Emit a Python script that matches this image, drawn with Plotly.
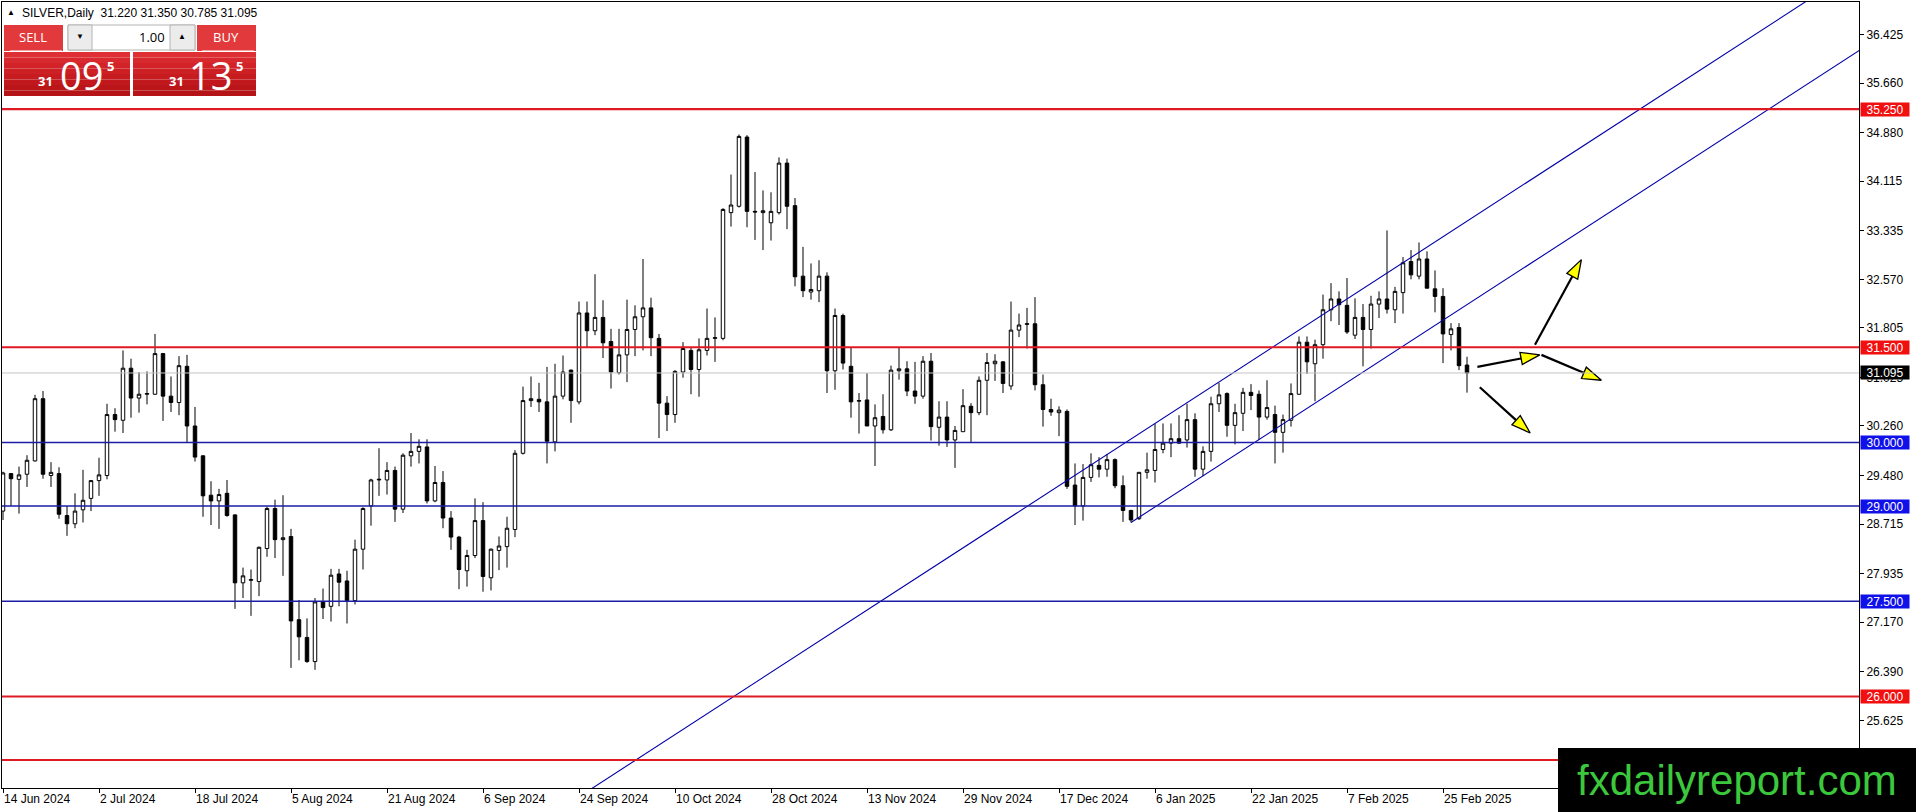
import plotly.graph_objects as go

# SILVER daily bars, 14 Jun 2024 .. 28 Feb 2025
opens = [28.92, 29.51, 29.42, 29.50, 29.71, 30.69, 29.48, 29.51, 28.85, 28.72,
         28.94, 29.12, 29.40, 29.48, 30.44, 30.35, 31.17, 30.70, 30.76, 30.76,
         31.40, 30.73, 30.63, 31.20, 30.26, 29.79, 29.17, 29.08, 29.20, 28.86,
         27.79, 27.83, 27.81, 28.33, 28.96, 28.47, 28.52, 27.21, 26.93, 26.55,
         27.49, 27.42, 27.93, 27.82, 27.51, 28.32, 29.00, 29.41, 29.41, 29.56,
         28.95, 29.79, 29.86, 29.93, 29.08, 29.37, 28.81, 28.51, 27.98, 28.22,
         28.77, 27.87, 28.30, 28.36, 28.63, 29.83, 30.66, 30.68, 30.64, 30.01,
         30.73, 31.14, 30.64, 32.04, 31.76, 31.97, 31.59, 31.10, 31.38, 31.78,
         31.98, 32.12, 31.64, 30.62, 30.44, 31.11, 31.45, 31.15, 31.45, 31.64,
         31.64, 33.62, 33.72, 34.81, 33.64, 33.62, 33.46, 33.62, 34.40, 33.73,
         32.62, 32.37, 32.39, 32.62, 31.13, 32.00, 31.20, 30.65, 30.67, 30.26,
         30.41, 30.20, 31.13, 31.16, 30.81, 30.73, 31.28, 30.24, 30.40, 30.04,
         30.17, 30.57, 30.47, 30.98, 31.24, 31.27, 30.89, 31.77, 31.86, 31.87,
         30.91, 30.52, 30.47, 30.49, 29.33, 29.00, 29.45, 29.64, 29.58, 29.73,
         29.32, 28.93, 28.80, 29.53, 29.56, 29.89, 29.99, 30.06, 30.04, 30.36,
         29.58, 29.86, 30.61, 30.77, 30.27, 30.46, 30.79, 30.76, 30.40, 30.44,
         30.16, 30.35, 30.76, 31.58, 31.24, 31.54, 32.09, 32.26, 32.16, 31.69,
         31.97, 31.78, 32.18, 32.26, 32.09, 32.36, 32.85, 32.62, 32.89, 32.42,
         32.30, 31.70, 31.81, 31.22]
highs = [29.54, 29.52, 29.62, 29.80, 30.75, 30.81, 29.69, 29.61, 29.00, 29.20,
         29.57, 29.41, 29.76, 30.61, 30.54, 31.45, 31.32, 31.11, 31.12, 31.71,
         31.41, 31.04, 31.36, 31.38, 30.56, 29.80, 29.39, 29.27, 29.41, 28.87,
         28.03, 28.00, 28.36, 28.99, 29.10, 29.17, 28.64, 27.52, 27.23, 27.55,
         27.70, 28.01, 28.01, 27.98, 28.47, 28.98, 29.43, 29.91, 29.69, 29.62,
         29.83, 30.15, 30.05, 30.05, 29.63, 29.55, 28.92, 28.53, 28.31, 29.12,
         29.06, 28.33, 28.52, 28.83, 29.88, 30.88, 31.04, 30.94, 31.19, 31.24,
         31.37, 31.15, 32.22, 32.22, 32.65, 32.24, 31.79, 31.79, 32.25, 32.16,
         32.89, 32.28, 31.71, 30.73, 31.14, 31.58, 31.49, 31.64, 32.11, 31.97,
         33.69, 34.22, 34.85, 34.84, 34.26, 33.97, 33.94, 34.49, 34.47, 33.85,
         33.08, 32.82, 32.87, 32.68, 32.11, 32.03, 31.49, 30.78, 31.09, 30.60,
         30.76, 31.21, 31.49, 31.28, 31.27, 31.36, 31.41, 30.65, 30.65, 30.26,
         30.84, 30.62, 31.04, 31.41, 31.39, 31.28, 32.22, 32.03, 32.12, 32.29,
         31.07, 30.69, 30.57, 30.52, 29.67, 29.66, 29.83, 29.77, 29.82, 29.75,
         29.48, 28.94, 29.53, 29.84, 30.30, 30.30, 30.30, 30.43, 30.61, 30.46,
         29.94, 30.72, 30.94, 30.79, 30.61, 30.86, 30.92, 30.82, 30.98, 30.58,
         30.44, 30.93, 31.67, 31.67, 31.62, 32.33, 32.51, 32.38, 32.59, 32.27,
         32.18, 32.31, 32.38, 33.34, 32.45, 32.92, 33.03, 33.15, 33.01, 32.71,
         32.43, 31.88, 31.88, 31.35]
lows = [28.78, 29.00, 28.88, 29.30, 29.70, 29.43, 29.30, 28.80, 28.53, 28.65,
        28.74, 28.92, 29.16, 29.42, 30.17, 30.15, 30.39, 30.47, 30.60, 30.75,
        30.34, 30.48, 30.43, 30.00, 29.70, 28.83, 28.70, 28.64, 28.83, 27.38,
        27.55, 27.27, 27.58, 28.20, 28.18, 27.90, 26.45, 26.57, 26.53, 26.42,
        27.22, 27.18, 27.42, 27.15, 27.45, 28.00, 28.69, 29.16, 29.18, 28.75,
        28.89, 29.62, 29.67, 29.04, 29.06, 28.65, 28.31, 27.69, 27.73, 28.18,
        27.65, 27.67, 27.99, 28.03, 28.51, 29.81, 30.56, 30.48, 29.67, 29.86,
        30.68, 30.31, 30.60, 31.50, 31.69, 31.33, 30.85, 31.07, 30.95, 31.36,
        31.45, 31.36, 30.07, 30.18, 30.31, 31.02, 30.76, 30.72, 31.37, 31.27,
        31.61, 33.40, 33.70, 33.39, 33.19, 33.03, 33.18, 33.59, 33.36, 32.46,
        32.29, 32.25, 32.21, 30.78, 30.83, 31.15, 30.39, 30.14, 30.26, 29.63,
        30.14, 30.18, 30.99, 30.73, 30.61, 30.69, 30.03, 29.95, 29.93, 29.60,
        30.17, 30.00, 30.43, 30.43, 30.97, 30.78, 30.83, 31.66, 31.48, 30.82,
        30.25, 30.42, 30.10, 29.27, 28.70, 28.77, 29.38, 29.45, 29.46, 29.28,
        28.75, 28.74, 28.78, 29.43, 29.37, 29.83, 29.77, 29.98, 29.92, 29.46,
        29.47, 29.70, 30.48, 30.09, 29.97, 30.18, 30.51, 30.04, 30.36, 29.67,
        29.84, 30.25, 30.75, 31.08, 30.65, 31.32, 31.91, 31.85, 31.71, 31.63,
        31.20, 31.48, 31.96, 32.03, 31.88, 32.03, 32.57, 32.57, 32.43, 32.05,
        31.25, 31.45, 31.14, 30.785]
closes = [29.52, 29.43, 29.49, 29.72, 30.69, 29.50, 29.53, 28.87, 28.72, 28.92,
          29.09, 29.40, 29.49, 30.44, 30.36, 31.17, 30.70, 30.76, 30.77, 31.40,
          30.73, 30.63, 31.21, 30.26, 29.77, 29.16, 29.08, 29.18, 28.85, 27.79,
          27.90, 27.84, 28.35, 28.96, 28.47, 28.50, 27.19, 26.94, 26.55, 27.49,
          27.40, 27.91, 27.80, 27.51, 28.32, 28.96, 29.41, 29.42, 29.56, 28.95,
          29.80, 29.86, 29.94, 29.08, 29.37, 28.81, 28.51, 28.00, 28.22, 28.77,
          27.89, 28.32, 28.37, 28.65, 29.83, 30.66, 30.69, 30.64, 30.02, 30.73,
          31.11, 30.66, 32.04, 31.76, 31.97, 31.57, 31.11, 31.38, 31.78, 31.98,
          32.12, 31.65, 30.62, 30.44, 31.12, 31.48, 31.15, 31.46, 31.64, 31.65,
          33.67, 33.74, 34.82, 33.64, 33.63, 33.65, 33.64, 34.40, 33.72, 32.61,
          32.39, 32.41, 32.62, 31.13, 32.00, 31.25, 30.64, 30.66, 30.26, 30.39,
          30.20, 31.14, 31.16, 30.81, 30.73, 31.28, 30.25, 30.40, 30.04, 30.19,
          30.58, 30.47, 30.98, 31.26, 31.28, 30.93, 31.77, 31.85, 31.87, 30.91,
          30.52, 30.48, 30.51, 29.31, 29.00, 29.45, 29.65, 29.58, 29.73, 29.32,
          28.93, 28.78, 29.53, 29.57, 29.89, 29.99, 30.06, 29.99, 30.36, 29.58,
          29.86, 30.61, 30.75, 30.27, 30.47, 30.79, 30.74, 30.40, 30.55, 30.16,
          30.36, 30.77, 31.58, 31.27, 31.54, 32.09, 32.26, 32.17, 31.74, 31.97,
          31.78, 32.18, 32.26, 32.10, 32.38, 32.83, 32.64, 32.89, 32.43, 32.30,
          31.71, 31.79, 31.21, 31.095]

# date labels sit on every 12th bar
tick_bars = [0, 12, 24, 36, 48, 60, 72, 84, 96, 108, 120, 132, 144, 156, 168, 180]
tick_labels = ['14 Jun 2024', '2 Jul 2024', '18 Jul 2024', '5 Aug 2024', '21 Aug 2024',
               '6 Sep 2024', '24 Sep 2024', '10 Oct 2024', '28 Oct 2024', '13 Nov 2024',
               '29 Nov 2024', '17 Dec 2024', '6 Jan 2025', '22 Jan 2025', '7 Feb 2025',
               '25 Feb 2025']
price_ticks = [36.425, 35.660, 34.880, 34.115, 33.335, 32.570, 31.805, 31.025,
               30.260, 29.480, 28.715, 27.935, 27.170, 26.390, 25.625]

# drawn levels
red_levels = [35.25, 31.5, 26.0, 25.0]
red_tagged = [35.25, 31.5, 26.0]
blue_levels = [30.0, 29.0, 27.5]
last_price = 31.095

# trend channel (bar index, price)
chan_a_x = [60, 240]
chan_a_y = [23.44, 38.14]
chan_b_x = [141, 240]
chan_b_y = [28.74, 36.825]

# forecast arrows (bar index, price): start -> end
arrow_x0 = [184.3, 191.5, 192.3, 184.6]
arrow_y0 = [31.19, 31.54, 31.38, 30.87]
arrow_x1 = [192.1, 197.3, 199.8, 190.9]
arrow_y1 = [31.38, 32.88, 30.98, 30.15]

W, H = 1916, 812
ML, MR, MT, MB = 2, 57, 2, 24
PW, PH = W - ML - MR, H - MT - MB
FONT = 'Liberation Sans'


def px(x):
    return (x - ML) / PW


def py(y):
    return (H - MB - y) / PH


bars = list(range(len(closes)))

fig = go.Figure()
fig.add_trace(go.Candlestick(
    x=bars, open=opens, high=highs, low=lows, close=closes,
    increasing=dict(line=dict(color='black', width=1), fillcolor='white'),
    decreasing=dict(line=dict(color='black', width=1), fillcolor='black'),
    whiskerwidth=0, showlegend=False, hoverinfo='skip'))

# horizontal levels
for lv in red_levels:
    fig.add_hline(y=lv, line=dict(color='#e01a22', width=2.2), layer='above')
for lv in blue_levels:
    fig.add_hline(y=lv, line=dict(color='#1c1ca8', width=1.3), layer='above')
fig.add_hline(y=last_price, line=dict(color='#c4c4c4', width=1), layer='above')

# channel
for cx, cy in [(chan_a_x, chan_a_y), (chan_b_x, chan_b_y)]:
    fig.add_trace(go.Scatter(x=cx, y=cy, mode='lines', line=dict(color='#0000a8', width=1.1),
                             showlegend=False, hoverinfo='skip'))

# arrows: black shaft, yellow head
for i in range(len(arrow_x0)):
    fig.add_trace(go.Scatter(
        x=[arrow_x0[i], arrow_x1[i]], y=[arrow_y0[i], arrow_y1[i]], mode='lines+markers',
        line=dict(color='black', width=2.2),
        marker=dict(symbol='arrow', angleref='previous', size=[0, 20], opacity=[0, 1],
                    color='#ffff00', line=dict(color='black', width=1.3)),
        showlegend=False, hoverinfo='skip'))

# price tags on the right scale
tags = [(lv, '#f01010') for lv in red_tagged] + [(lv, '#1010e8') for lv in blue_levels]
tags.append((last_price, 'black'))
for lv, col in tags:
    fig.add_annotation(x=1, xref='paper', y=lv, yref='y', xanchor='left', yanchor='middle',
                       xshift=1, text=f'{lv:.3f}', showarrow=False, bgcolor=col, borderpad=0,
                       width=48, height=13, font=dict(family=FONT, size=12, color='white'))

shapes = []


def rect(x0, y0, x1, y1, fill, line_color=None, lw=0):
    shapes.append(dict(type='rect', xref='paper', yref='paper', layer='above',
                       x0=px(x0), x1=px(x1), y0=py(y1), y1=py(y0), fillcolor=fill,
                       line=dict(color=line_color or fill, width=lw)))


def label(x, y, text, size, color='white', anchor='center', bold=False, family='Open Sans'):
    fig.add_annotation(x=px(x), y=py(y), xref='paper', yref='paper', xanchor=anchor,
                       yanchor='middle', text=f'<b>{text}</b>' if bold else text,
                       showarrow=False, font=dict(family=family, size=size, color=color))


# one-click trading panel
rect(4, 25, 63, 51, '#e23a3c')
rect(197, 25, 256, 51, '#e23a3c')
rect(68, 25, 195, 50, 'white', '#b4b4b4', 1)
rect(68, 25, 92, 50, '#ececec', '#b4b4b4', 1)
rect(170, 25, 195, 50, '#ececec', '#b4b4b4', 1)
grad = ['#de3034', '#d82a2e', '#d22428', '#cc2024', '#c61c20', '#c0181c', '#ba161a', '#b41418']
for k, col in enumerate(grad):
    y0 = 52 + k * 5.5
    rect(4, y0, 130, y0 + 5.6, col)
    rect(133, y0, 256, y0 + 5.6, col)
shapes.append(dict(type='line', xref='paper', yref='paper', layer='above',
                   x0=px(10), x1=px(62), y0=py(50.5), y1=py(50.5),
                   line=dict(color='#f4a0a0', width=1)))
shapes.append(dict(type='line', xref='paper', yref='paper', layer='above',
                   x0=px(202), x1=px(254), y0=py(50.5), y1=py(50.5),
                   line=dict(color='#f4a0a0', width=1)))
label(33, 37, 'SELL', 13)
label(226, 37, 'BUY', 13)
label(167, 37, '1.00', 13, color='black', anchor='right')
label(80, 37, '▼', 8, color='black', family=FONT)
label(182, 37, '▲', 8, color='black', family=FONT)
label(45, 81, '31', 13, bold=True)
label(81, 75, '09', 38)
label(110, 66, '5', 13, bold=True)
label(176, 81, '31', 13, bold=True)
label(210, 75, '13', 38)
label(239, 66, '5', 13, bold=True)

# header line
label(11, 12.5, '▲', 8, color='black', family=FONT)
label(20, 12.5, 'SILVER,Daily  31.220 31.350 30.785 31.095', 12, color='black',
      anchor='left', family=FONT)

# watermark
rect(1558, 748, 1916, 812, 'black')
label(1737, 780, 'fxdailyreport.com', 42, color='#3cc83c', family=FONT)

fig.update_layout(
    width=W, height=H, margin=dict(l=ML, r=MR, t=MT, b=MB),
    paper_bgcolor='white', plot_bgcolor='white', showlegend=False, boxgap=0.38,
    shapes=list(fig.layout.shapes) + shapes,
    font=dict(family=FONT, size=12, color='black'),
    xaxis=dict(range=[-0.125, 232], rangeslider=dict(visible=False), showgrid=False,
               zeroline=False, tickvals=tick_bars, ticktext=tick_labels,
               ticks='outside', ticklen=4, tickcolor='black', ticklabelposition='outside right',
               showline=True, linecolor='black', linewidth=1, mirror=True),
    yaxis=dict(range=[24.559, 36.937], side='right', showgrid=False, zeroline=False,
               tickvals=price_ticks, ticktext=[f'{v:.3f}' for v in price_ticks],
               ticks='outside', ticklen=4, tickcolor='black',
               showline=True, linecolor='black', linewidth=1, mirror=True),
)

fig.write_html('out.html', config={'displayModeBar': False},
               post_script="document.body.style.margin='0';")
